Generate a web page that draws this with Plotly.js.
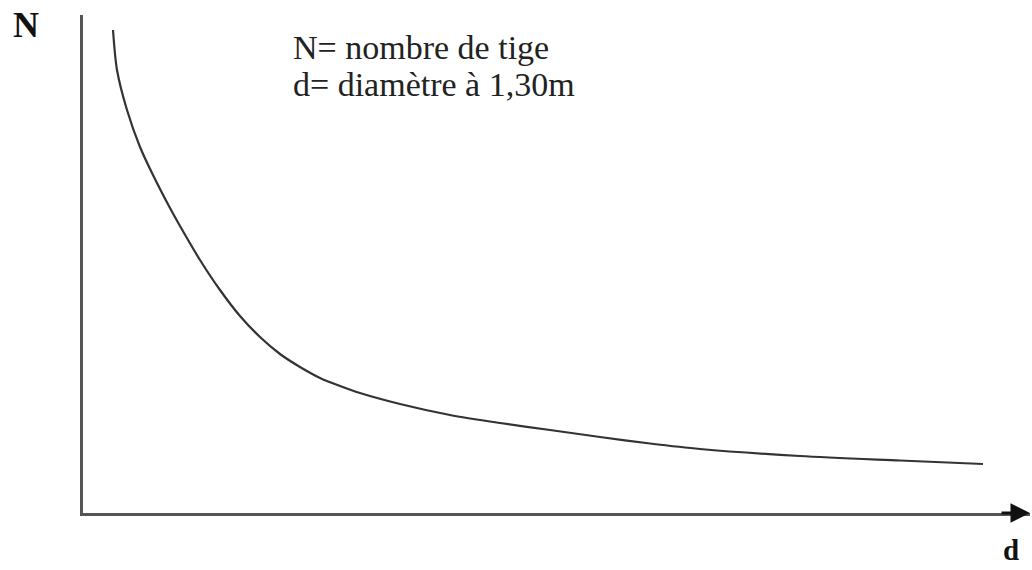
<!DOCTYPE html>
<html>
<head>
<meta charset="utf-8">
<script src="https://cdn.plot.ly/plotly-3.0.1.min.js"></script>
<style>html,body{margin:0;padding:0;background:#fff;}#chart{width:1032px;height:570px;}</style>
</head>
<body>
<div id="chart"></div>
<script>
// diameter (d) and number of stems (N), arbitrary units
const diametre = [33, 37, 47, 60, 73, 90, 100, 120, 140, 160, 180, 200, 220, 240, 260, 280, 320, 370, 420, 470, 520, 570, 620, 720, 820, 903];
const nombreTiges = [485, 445, 405, 368, 340, 307, 289, 255, 225, 199, 178, 161, 148, 137, 129, 122, 111, 100, 92, 85, 78, 71.5, 66, 59, 54.5, 51];
const legendLines = ["N= nombre de tige", "d= diamètre à 1,30m"];
const yLabel = "N";
const xLabel = "d";

const trace = {
  x: diametre, y: nombreTiges, type: 'scatter', mode: 'lines',
  line: {color: '#333', width: 2.2, shape: 'spline', smoothing: 0.8},
  hoverinfo: 'skip'
};

const serif = 'Liberation Serif, Times New Roman, serif';
const layout = {
  width: 1032, height: 570,
  margin: {l: 83, r: 2, t: 15, b: 57},
  paper_bgcolor: '#fff', plot_bgcolor: '#fff',
  showlegend: false,
  xaxis: {range: [3, 950], showgrid: false, zeroline: false, showticklabels: false, ticks: '',
          showline: true, linecolor: '#555', linewidth: 3},
  yaxis: {range: [2, 500], showgrid: false, zeroline: false, showticklabels: false, ticks: '',
          showline: true, linecolor: '#555', linewidth: 3},
  annotations: [
    {xref: 'x', yref: 'y', axref: 'x', ayref: 'y', x: 950, y: 2, ax: 920, ay: 2,
     showarrow: true, arrowhead: 2, arrowsize: 1.3, arrowwidth: 3, arrowcolor: '#111', text: ''},
    {xref: 'paper', yref: 'paper', x: -0.06, y: 0.98, xanchor: 'center', yanchor: 'middle',
     text: '<b>' + yLabel + '</b>', showarrow: false, font: {family: serif, size: 36, color: '#111'}},
    {xref: 'paper', yref: 'paper', x: 0.98, y: -0.074, xanchor: 'center', yanchor: 'middle',
     text: '<b>' + xLabel + '</b>', showarrow: false, font: {family: serif, size: 29, color: '#111'}},
    {xref: 'paper', yref: 'paper', x: 0.2196, y: 0.934, xanchor: 'left', yanchor: 'middle',
     text: legendLines[0], showarrow: false, font: {family: serif, size: 34, color: '#222'}},
    {xref: 'paper', yref: 'paper', x: 0.2196, y: 0.86, xanchor: 'left', yanchor: 'middle',
     text: legendLines[1], showarrow: false, font: {family: serif, size: 34, color: '#222'}}
  ]
};

Plotly.newPlot('chart', [trace], layout, {displayModeBar: false, staticPlot: true});
</script>
</body>
</html>
